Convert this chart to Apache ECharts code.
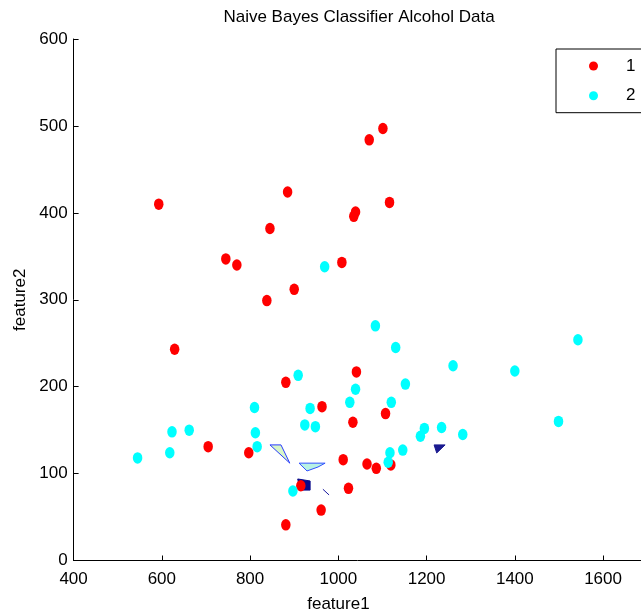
<!DOCTYPE html>
<html>
<head>
<meta charset="utf-8">
<script src="https://cdn.jsdelivr.net/npm/echarts@6/dist/echarts.min.js"></script>
<style>
    html, body { margin: 0; padding: 0; background: #fff; }
    #chart { width: 641px; height: 616px; }
</style>
</head>
<body>
<div id="chart"></div>
<script>
// class 1 (red) points
var class1X = [593, 885, 845, 745, 770, 838, 900, 1008, 1035, 1039, 1116, 1070, 1101, 629, 881, 1041, 963, 1033, 1107, 705, 797, 1011, 1065, 1086, 1119, 915, 1023, 961, 881];
var class1Y = [410, 424, 382, 347, 340, 299, 312, 343, 396, 401, 412, 484, 497, 243, 205, 217, 177, 159, 169, 131, 124, 116, 111, 106, 110, 86, 83, 58, 41];
// class 2 (cyan) points
var class2X = [969, 1084, 1130, 1543, 1260, 1400, 909, 1152, 1039, 810, 936, 1026, 1120, 1499, 623, 662, 812, 924, 948, 1195, 1234, 1282, 1186, 816, 1146, 1117, 545, 618, 1113, 897];
var class2Y = [338, 270, 245, 254, 224, 218, 213, 203, 197, 176, 175, 182, 182, 160, 148, 150, 147, 156, 154, 152, 153, 145, 143, 131, 127, 124, 118, 124, 113, 80];
// leftover contour pieces of the decision boundary
var contourShapes = [
    { pts: [[845, 133], [870, 133], [890, 112]], fill: '#d8f6c8', stroke: '#2a3cff' },
    { pts: [[911, 112], [970, 112], [954, 107.6], [929, 103]], fill: '#b8f2e4', stroke: '#3050ff' },
    { pts: [[908, 93.8], [936, 91.5], [936, 81], [913, 81]], fill: '#0a0a8a', stroke: '#0a0a8a' },
    { pts: [[965, 82], [979, 75.4]], fill: null, stroke: '#1a1aa0' },
    { pts: [[1217, 133], [1242, 133], [1223, 123.7]], fill: '#1a1a90', stroke: '#1a1a90' }
];
var xTicks = { min: 400, max: 1700, step: 200 };
var yTicks = { min: 0, max: 600, step: 100 };

var fontFam = "'Liberation Sans', Arial, sans-serif";
var dotPath = 'path://M10 0A10 10 0 1 1 10 20A10 10 0 1 1 10 0Z';

function zip(xs, ys) {
    return xs.map(function (x, i) { return [x, ys[i]]; });
}

var myChart = echarts.init(document.getElementById('chart'));

var axisCommon = {
    axisLine: { show: true, lineStyle: { color: '#000', width: 1 } },
    axisTick: { show: true, inside: true, length: 5, lineStyle: { color: '#000' } },
    splitLine: { show: false },
    nameTextStyle: { color: '#000', fontSize: 17, fontFamily: fontFam }
};

var option = {
    backgroundColor: '#fff',
    animation: false,
    title: {
        text: 'Naive Bayes Classifier Alcohol Data',
        left: 359,
        top: 9,
        padding: 0,
        textAlign: 'center',
        textStyle: { color: '#000', fontSize: 17, fontWeight: 'normal', fontFamily: fontFam }
    },
    legend: {
        data: ['1', '2'],
        orient: 'vertical',
        left: 556,
        top: 49,
        padding: [8.5, 20, 8.5, 33],
        itemGap: 12.7,
        itemWidth: 9,
        itemHeight: 11,
        icon: dotPath,
        backgroundColor: '#fff',
        borderColor: '#000',
        borderWidth: 1,
        textStyle: { color: '#000', fontSize: 17, fontFamily: fontFam, padding: [0, 0, 0, 23] }
    },
    grid: { left: 73.6, top: 39, right: -6.2, bottom: 55.5, outerBoundsMode: 'none', containLabel: false }
};

option.xAxis = Object.assign({}, axisCommon, {
    type: 'value',
    min: xTicks.min,
    max: xTicks.max,
    interval: xTicks.step,
    name: 'feature1',
    nameLocation: 'middle',
    nameGap: 35,
    nameTextStyle: Object.assign({}, axisCommon.nameTextStyle, { padding: [0, 44, 0, 0] }),
    axisLabel: { color: '#000', fontSize: 17, fontFamily: fontFam, margin: 10, showMaxLabel: false,
        formatter: function (v) { return String(v); } }
});
option.yAxis = Object.assign({}, axisCommon, {
    type: 'value',
    min: yTicks.min,
    max: yTicks.max,
    interval: yTicks.step,
    name: 'feature2',
    nameLocation: 'middle',
    nameGap: 45,
    axisLabel: { color: '#000', fontSize: 17, fontFamily: fontFam, margin: 6,
        formatter: function (v) { return String(v); } }
});

option.series = [
    {
        name: 'boundary',
        type: 'custom',
        z: 1,
        silent: true,
        encode: { x: 0, y: 1 },
        data: contourShapes.map(function (s, i) { return [s.pts[0][0], s.pts[0][1], i]; }),
        renderItem: function (params, api) {
            var s = contourShapes[api.value(2)];
            var points = s.pts.map(function (p) { return api.coord(p); });
            return {
                type: s.fill ? 'polygon' : 'polyline',
                shape: { points: points },
                style: { fill: s.fill || null, stroke: s.stroke, lineWidth: 1 }
            };
        }
    },
    {
        name: '1',
        type: 'scatter',
        z: 2,
        symbol: dotPath,
        symbolSize: [9.5, 11.5],
        itemStyle: { color: '#ff0000', opacity: 1 },
        data: zip(class1X, class1Y)
    },
    {
        name: '2',
        type: 'scatter',
        z: 3,
        symbol: dotPath,
        symbolSize: [9.5, 11.5],
        itemStyle: { color: '#00ffff', opacity: 1 },
        data: zip(class2X, class2Y)
    }
];

myChart.setOption(option);
</script>
</body>
</html>
